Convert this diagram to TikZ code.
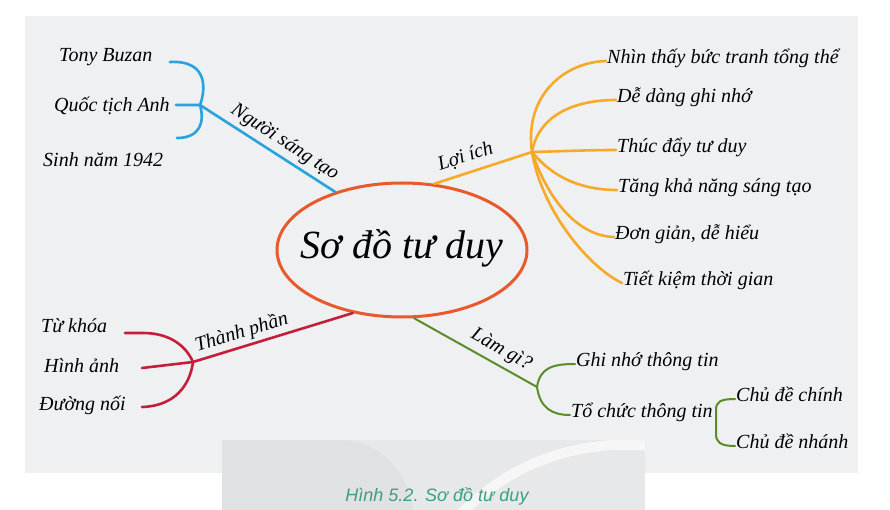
\documentclass[tikz,border=0pt]{standalone}
\usepackage{fontspec}
\setmainfont{Liberation Serif}
\setsansfont{Liberation Sans}
\usetikzlibrary{shapes.geometric}
\definecolor{panel}{RGB}{238,240,241}
\definecolor{deco}{RGB}{231,232,233}
\definecolor{decodark}{RGB}{224,225,226}
\definecolor{decolight}{RGB}{246,246,246}
\definecolor{bluebr}{RGB}{41,163,220}
\definecolor{orangebr}{RGB}{247,169,40}
\definecolor{redbr}{RGB}{196,30,58}
\definecolor{greenbr}{RGB}{91,140,42}
\definecolor{ringc}{RGB}{232,89,43}
\definecolor{capc}{RGB}{58,160,130}
\tikzset{
  hand/.style={font=\itshape\fontsize{20}{23}\selectfont, inner sep=1pt, text=black},
  leaf/.style={hand, anchor=mid west},
  leftleaf/.style={hand, anchor=base west},
  lab/.style={hand, inner sep=0pt},
  twig/.style={line width=2.6pt, line cap=round},
}

\begin{document}
\begin{tikzpicture}[x=1pt,y=-1pt]
\useasboundingbox (0,0) rectangle (890,510);
\fill[white] (0,0) rectangle (890,510);
\fill[panel] (25,16) rectangle (858,473);
\begin{scope}
\clip (222,440) rectangle (645,510);
\fill[deco] (222,440) rectangle (645,510);
\fill[decodark] (222,440) -- (340,440) .. controls (385,440) and (410,480) .. (413,510) -- (222,510) -- cycle;
\draw[decolight, line width=10pt] (455,520) .. controls (515,455) and (590,440) .. (650,446);
\end{scope}

\node[ellipse, draw=ringc, line width=3pt, minimum width=250, minimum height=134, inner sep=0pt] (core) at (402,250) {};
\node[font=\itshape\fontsize{40}{46}\selectfont] (title) at (402,248) {Sơ đồ tư duy};

\node[leftleaf] (tony) at (58,62) {Tony Buzan};
\node[leftleaf] (quoctich) at (53,112) {Quốc tịch Anh};
\node[leftleaf] (sinh) at (42,167) {Sinh năm 1942};

\node[leaf] (o1) at (606,61) {Nhìn thấy bức tranh tổng thể};
\node[leaf] (o2) at (616,100) {Dễ dàng ghi nhớ};
\node[leaf] (o3) at (616,150) {Thúc đẩy tư duy};
\node[leaf] (o4) at (617,190) {Tăng khả năng sáng tạo};
\node[leaf] (o5) at (614,237) {Đơn giản, dễ hiểu};
\node[leaf] (o6) at (622,283) {Tiết kiệm thời gian};

\node[leftleaf] (tukhoa) at (40,332) {Từ khóa};
\node[leftleaf] (hinhanh) at (43,372) {Hình ảnh};
\node[leftleaf] (duongnoi) at (38,410) {Đường nối};

\node[leaf] (g1) at (575,364) {Ghi nhớ thông tin};
\node[leaf] (g2) at (570,415) {Tổ chức thông tin};
\node[leaf] (c1) at (735,399) {Chủ đề chính};
\node[leaf] (c2) at (735,446) {Chủ đề nhánh};

\node[font=\sffamily\itshape\fontsize{18}{21}\selectfont, text=capc] (caption) at (437,496) {Hình 5.2. Sơ đồ tư duy};

\coordinate (j1) at (200,105);
\coordinate (b1) at (170,62);
\coordinate (b2) at (176,105);
\coordinate (b3) at (177,138);
\draw[twig, bluebr] (b1) .. controls (210,60) and (205,92) .. (j1) .. controls (205,122) and (200,138) .. (b3);
\draw[twig, bluebr] (b2) -- (j1) -- node[lab, sloped, above=4pt, pos=0.57] {Người sáng tạo} (core.139);

\coordinate (j2) at (532,152);
\draw[twig, orangebr] (core.64) -- node[lab, sloped, above=6pt, pos=0.37] {Lợi ích} (j2);
\draw[twig, orangebr] (j2) .. controls (524,95) and (565,62) .. (o1.mid west);
\draw[twig, orangebr] (j2) .. controls (538,118) and (570,100) .. (o2.mid west);
\draw[twig, orangebr] (j2) .. controls (570,151) and (590,150) .. (o3.mid west);
\draw[twig, orangebr] (j2) .. controls (555,180) and (585,190) .. (o4.mid west);
\draw[twig, orangebr] (j2) .. controls (548,200) and (578,236) .. (o5.mid west);
\draw[twig, orangebr] (j2) .. controls (542,212) and (590,268) .. (o6.mid west);

\coordinate (j3) at (193,362);
\coordinate (r1) at (125,333);
\coordinate (r2) at (142,368);
\coordinate (r3) at (142,407);
\draw[twig, redbr] (j3) -- node[lab, sloped, above=3pt, pos=0.33] {Thành phần} (core.232);
\draw[twig, redbr] (r1) -- (143,333) .. controls (170,333) and (186,346) .. (j3);
\draw[twig, redbr] (r2) -- (j3);
\draw[twig, redbr] (r3) .. controls (175,406) and (190,385) .. (j3);

\coordinate (j4) at (537,387);
\draw[twig, greenbr, line width=2pt] (core.280) -- node[lab, sloped, above=5pt, pos=0.65] {Làm gì?} (j4);
\draw[twig, greenbr, line width=2pt] (j4) .. controls (540,368) and (552,364) .. (g1.mid west);
\draw[twig, greenbr, line width=2pt] (j4) .. controls (540,408) and (552,415) .. (g2.mid west);
\draw[twig, greenbr, line width=2pt] (c1.mid west) .. controls (720,399) and (716,402) .. (716,410) -- (716,434) .. controls (716,442) and (720,446) .. (c2.mid west);
\end{tikzpicture}
\end{document}
